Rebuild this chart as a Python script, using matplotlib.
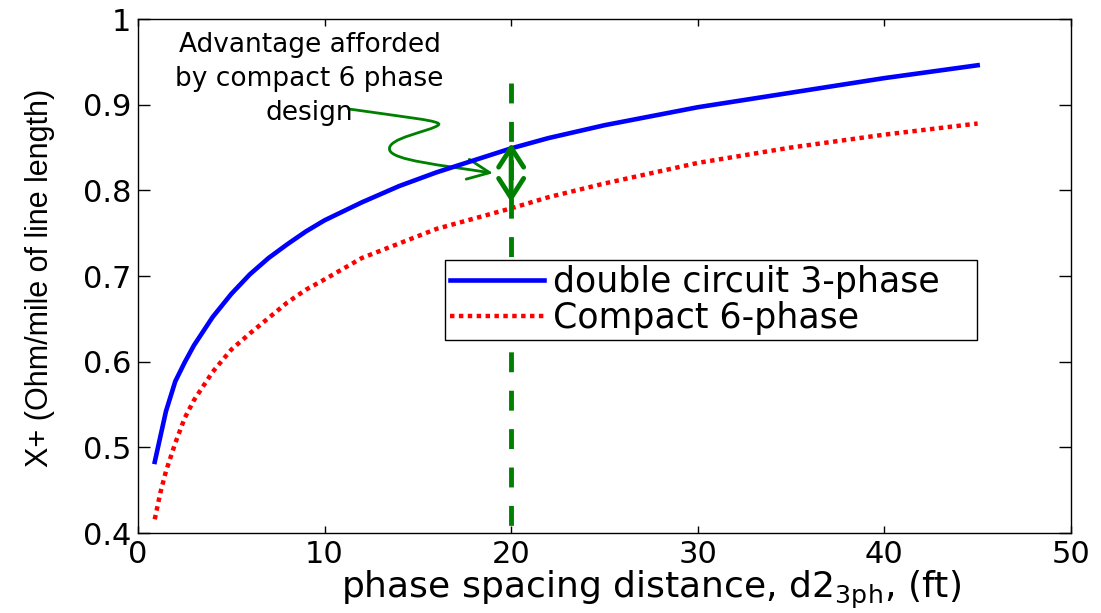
import matplotlib
matplotlib.use('Agg')
import matplotlib.pyplot as plt
from matplotlib.path import Path
from matplotlib.patches import FancyArrowPatch

# phase spacing (ft) and X+ (ohm/mile)
d_3ph = [0.9, 1.5, 2.0, 2.5, 3.0, 4.0, 5.0, 6.0, 7.0, 8.0, 9.0, 10.0,
         12.0, 14.0, 16.0, 20.0, 22.0, 25.0, 30.0, 35.0, 40.0, 45.0]
x_double = [0.483, 0.542, 0.577, 0.599, 0.619, 0.652, 0.679, 0.702, 0.721, 0.737, 0.752, 0.765,
            0.786, 0.805, 0.821, 0.849, 0.861, 0.876, 0.897, 0.914, 0.931, 0.946]

d_6ph = [0.9, 1.2, 1.5, 2.0, 2.5, 3.0, 4.0, 5.0, 6.0, 7.0, 8.0, 9.0, 10.0,
         12.0, 14.0, 16.0, 20.0, 22.0, 25.0, 30.0, 35.0, 40.0, 45.0]
x_compact = [0.416, 0.447, 0.472, 0.505, 0.534, 0.555, 0.588, 0.614, 0.633, 0.651, 0.669, 0.684, 0.696,
             0.721, 0.738, 0.755, 0.779, 0.792, 0.808, 0.832, 0.850, 0.865, 0.878]

labels = ['double circuit 3-phase', 'Compact 6-phase']

# design point marker
d_design = [20, 20]
y_design = [0.925, 0.4]
gap_top = 0.855
gap_bot = 0.786

xticks = [0, 10, 20, 30, 40, 50]
yticks = [0.4, 0.5, 0.6, 0.7, 0.8, 0.9, 1.0]
ytick_labels = ['0.4', '0.5', '0.6', '0.7', '0.8', '0.9', '1']

note = 'Advantage afforded\nby compact 6 phase\ndesign'
# squiggle from note to the gap (bezier points, data units)
squiggle = [(11.29, 0.895), (14.09, 0.886), (16.51, 0.881), (16.08, 0.876),
            (15.70, 0.869), (13.28, 0.861), (13.49, 0.847),
            (13.66, 0.835), (16.24, 0.8295), (19.03, 0.820)]

green = '#008000'

fig = plt.figure(figsize=(11.01, 6.13), dpi=100)
ax = fig.add_axes([0.1253, 0.1305, 0.8474, 0.8385])

ax.plot(d_3ph, x_double, color='blue', lw=3.3, label=labels[0])
ax.plot(d_6ph, x_compact, color='red', lw=3.2, linestyle=(0, (1, 1)), label=labels[1])
ax.plot(d_design, y_design, color=green, lw=3.5, linestyle=(0, (4.1, 3.8)))

ax.annotate('', xy=(20, gap_top), xytext=(20, gap_bot),
            arrowprops=dict(arrowstyle='<->,head_length=0.7,head_width=0.45',
                            color=green, lw=3.5, shrinkA=0, shrinkB=0,
                            mutation_scale=20))

codes = [Path.MOVETO] + [Path.CURVE4] * 9
arr = FancyArrowPatch(path=Path(squiggle, codes),
                      arrowstyle='->,head_length=1.0,head_width=0.45',
                      mutation_scale=16, color=green, lw=2.0)
ax.add_patch(arr)

ax.text(9.2, 0.985, note, ha='center', va='top', fontsize=19, linespacing=1.4)

ax.set_xlim(0, 50)
ax.set_ylim(0.4, 1.0)
ax.set_xticks(xticks)
ax.set_xticklabels([str(t) for t in xticks])
ax.set_yticks(yticks)
ax.set_yticklabels(ytick_labels)
ax.tick_params(axis='both', direction='in', top=True, right=True, labelsize=22, width=1)
ax.tick_params(axis='x', length=5, pad=5)
ax.tick_params(axis='y', length=8.6, pad=5)

ax.set_xlabel('phase spacing distance, d2$_{\\mathrm{3ph}}$, (ft)', fontsize=26)
ax.xaxis.set_label_coords(0.55, -0.070)
ax.set_ylabel('X+ (Ohm/mile of line length)', fontsize=22, family=['Liberation Sans', 'DejaVu Sans'])
ax.yaxis.set_label_coords(-0.089, 0.496)

leg = ax.legend(loc='upper left', bbox_to_anchor=(0.329, 0.375, 0.570, 0.156), mode='expand',
                borderaxespad=0, fontsize=25, handlelength=2.7, handletextpad=0.25,
                labelspacing=0.05, borderpad=0.15, fancybox=False, framealpha=1)
leg.get_frame().set_edgecolor('black')
leg.get_frame().set_linewidth(1.0)

for s in ax.spines.values():
    s.set_linewidth(1.0)

fig.savefig('out.png', dpi=100)
